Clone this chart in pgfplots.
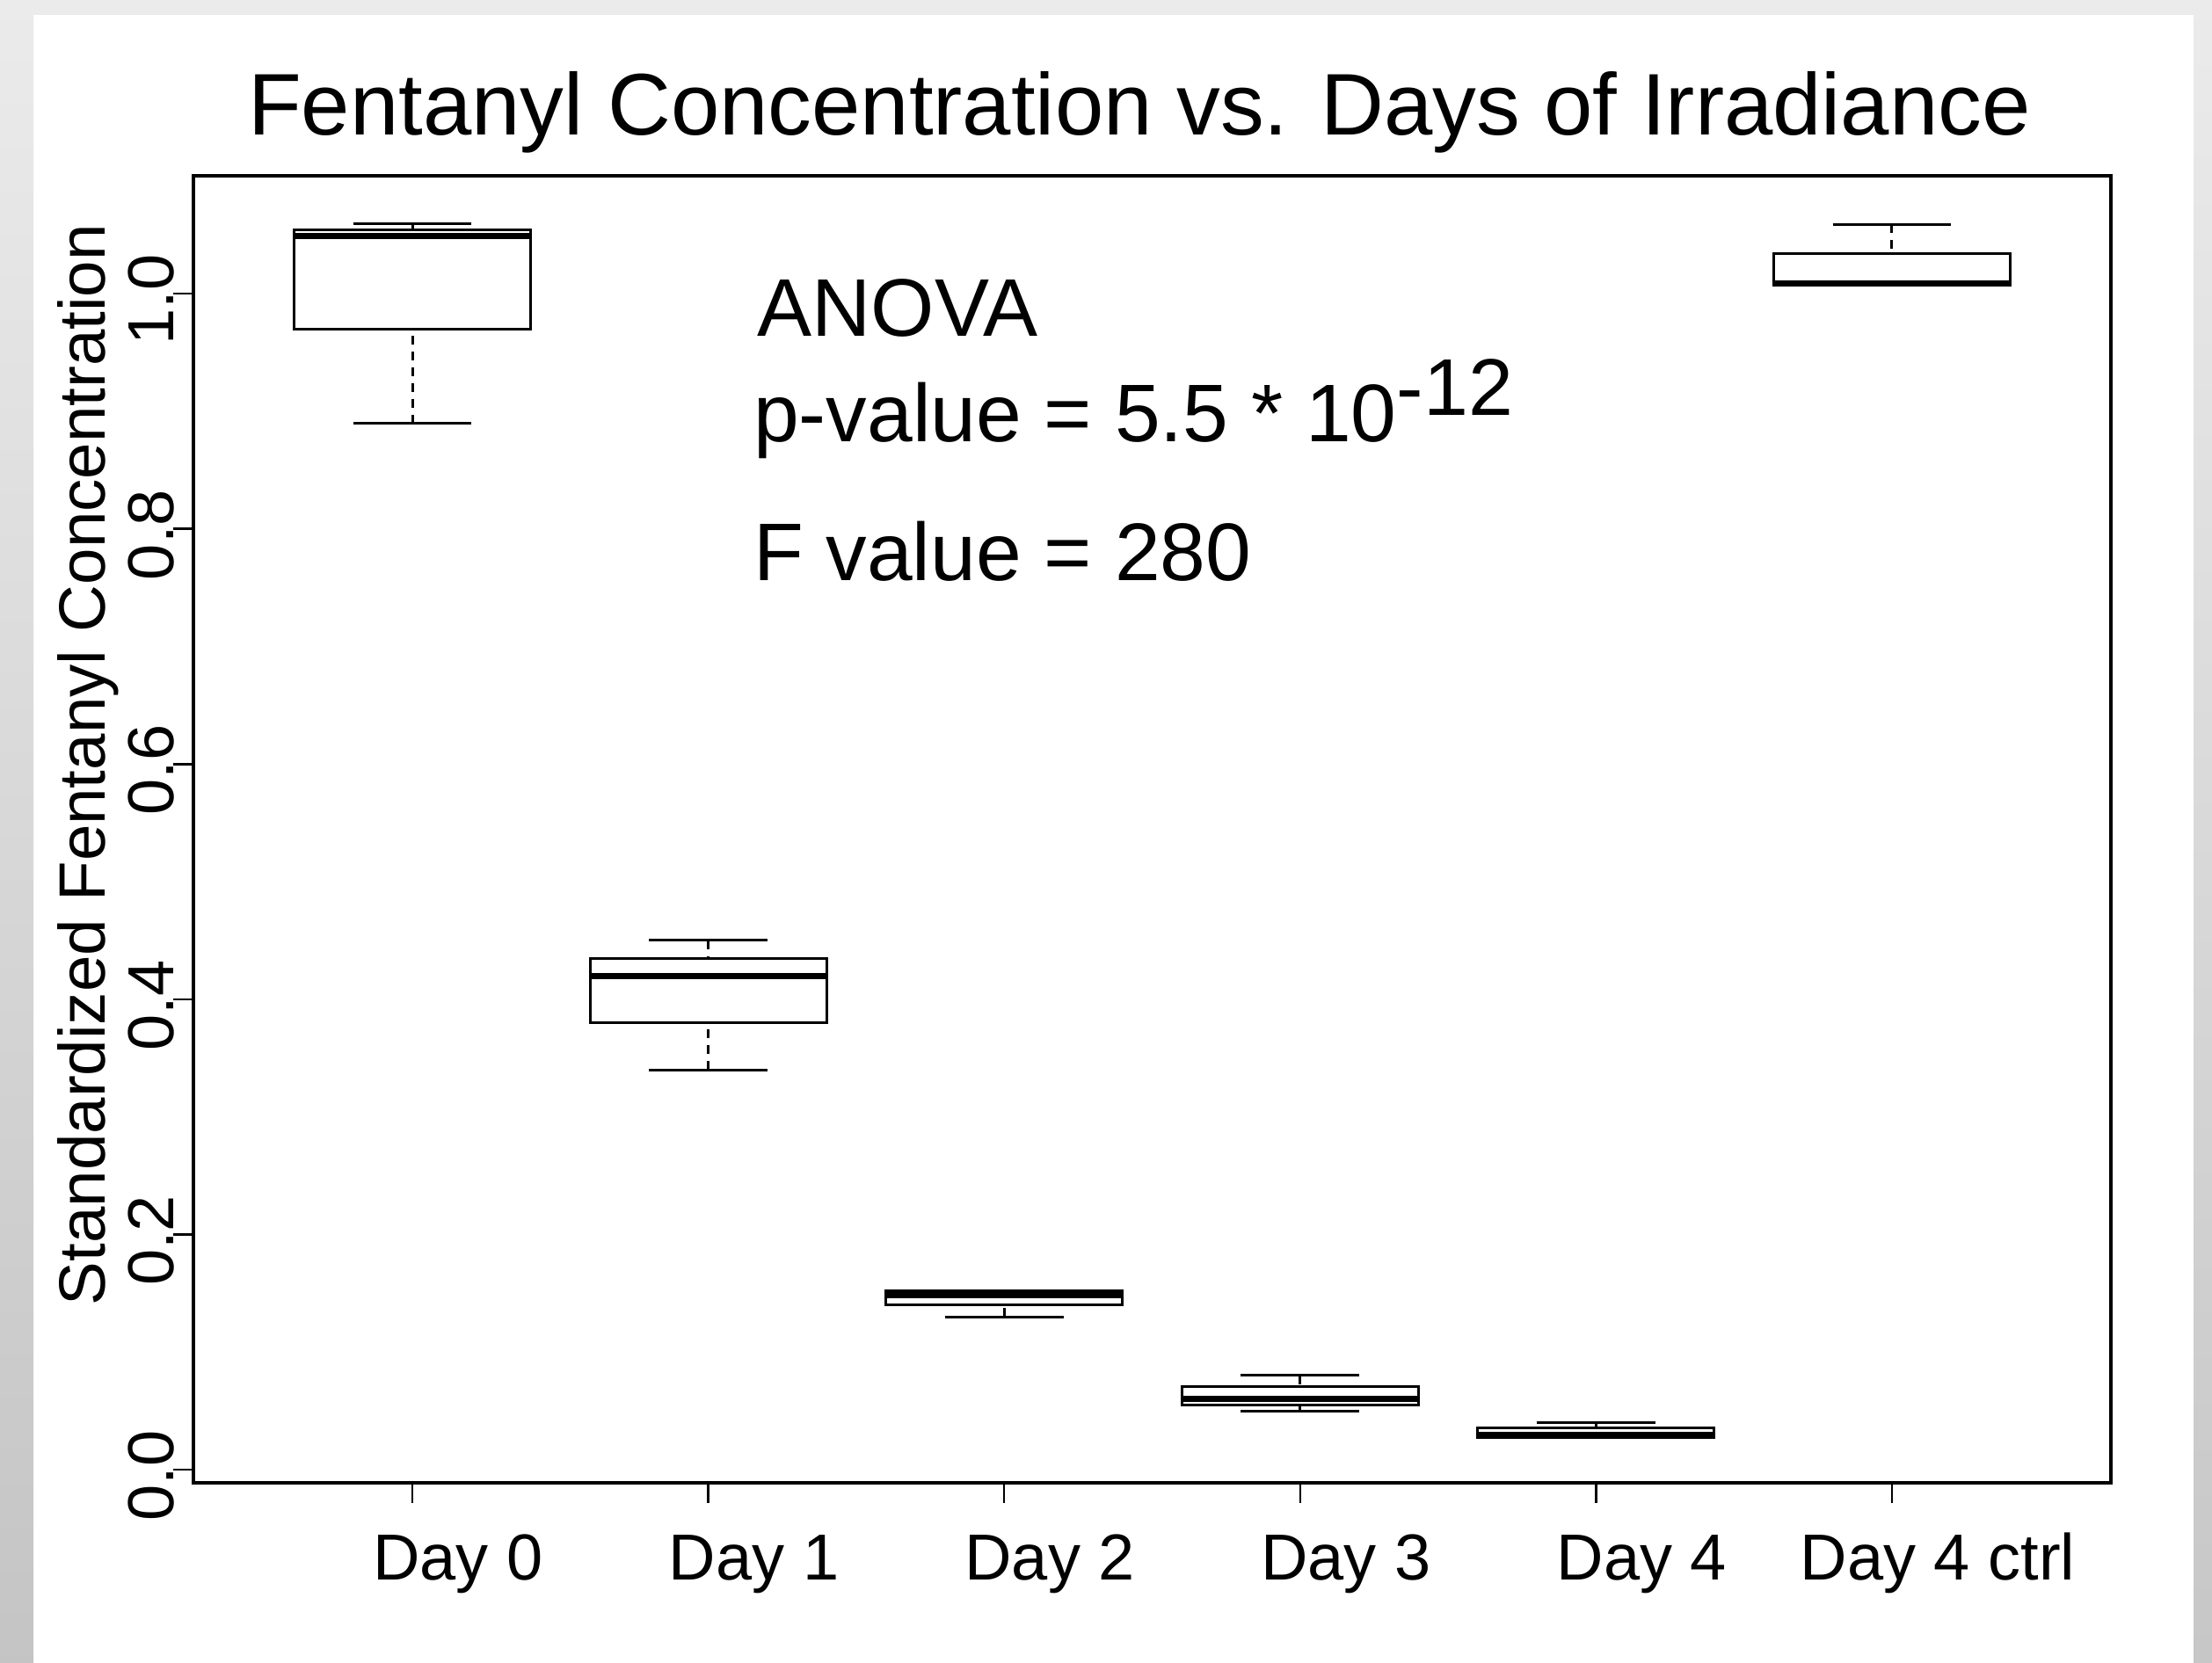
\documentclass[border=0pt]{standalone}
\usepackage{pgfplots}
\pgfplotsset{compat=1.18}
\usepgfplotslibrary{statistics}
\usepackage{fontspec}
\setmainfont{Liberation Sans}

\pgfplotsset{
  boxplot/every box/.style={draw=black, line width=0.6pt},
  boxplot/every median/.style={draw=black, line width=1.4pt},
  boxplot/draw/lower whisker/.code={%
    \draw[black, line width=0.6pt, dash pattern=on 2pt off 1.6pt]
      (boxplot cs:\pgfplotsboxplotvalue{lower whisker}) --
      (boxplot cs:\pgfplotsboxplotvalue{lower quartile});
    \draw[black, line width=0.6pt]
      (boxplot whisker cs:\pgfplotsboxplotvalue{lower whisker},0) --
      (boxplot whisker cs:\pgfplotsboxplotvalue{lower whisker},1);
  },
  boxplot/draw/upper whisker/.code={%
    \draw[black, line width=0.6pt, dash pattern=on 2pt off 1.6pt]
      (boxplot cs:\pgfplotsboxplotvalue{upper whisker}) --
      (boxplot cs:\pgfplotsboxplotvalue{upper quartile});
    \draw[black, line width=0.6pt]
      (boxplot whisker cs:\pgfplotsboxplotvalue{upper whisker},0) --
      (boxplot whisker cs:\pgfplotsboxplotvalue{upper whisker},1);
  },
}

\begin{document}
\begin{tikzpicture}
\useasboundingbox (0,0) rectangle (503.2pt,378.2pt);
\fill[white] (0,0) rectangle (503.2pt,378.2pt);
\fill[black!8] (0,374.8pt) rectangle (503.2pt,378.2pt);
\shade[top color=black!8, bottom color=black!23] (0,0) rectangle (7.6pt,374.8pt);
\shade[top color=black!8, bottom color=black!22] (499pt,0) rectangle (503.2pt,374.8pt);
\begin{axis}[
  at={(44pt,40.8pt)}, anchor=south west,
  scale only axis, width=436.2pt, height=297.4pt,
  xmin=0.26, xmax=6.74, ymin=-0.0112, ymax=1.1002,
  axis line style={black, line width=0.85pt},
  tick align=outside, xtick pos=bottom, ytick pos=left,
  major tick length=4.6pt,
  every tick/.style={black, line width=0.5pt},
  xtick={1,2,3,4,5,6},
  xticklabels={Day 0,Day 1,Day 2,Day 3,Day 4,Day 4 ctrl},
  ytick={0,0.2,0.4,0.6,0.8,1.0},
  yticklabels={0.0,0.2,0.4,0.6,0.8,1.0},
  ticklabel style={font=\fontsize{14.8}{17}\selectfont},
  xticklabel style={anchor=base, inner sep=0pt, xshift=10.4pt, yshift=-17.4pt},
  yticklabel style={rotate=90, anchor=base, inner sep=0pt, xshift=-1.4pt},
  title={Fentanyl Concentration vs. Days of Irradiance},
  title style={font=\fontsize{19.9}{24}\selectfont, at={(rel axis cs:0.4934,1.0114)}, anchor=base, inner sep=0pt, yshift=0pt},
  ylabel={Standardized Fentanyl Concentration},
  ylabel style={font=\fontsize{14.9}{17}\selectfont, at={(rel axis cs:-0.0459,0.5494)}, anchor=base, inner sep=0pt},
  boxplot/draw direction=y,
  clip=false,
]
% Day 0
\addplot[black, boxplot prepared={draw direction=y, lower whisker=0.8897, lower quartile=0.970, median=1.0492, upper quartile=1.0546, upper whisker=1.0591, draw position=1, box extend=0.8, whisker extend=0.4}] coordinates {};
% Day 1
\addplot[black, boxplot prepared={draw direction=y, lower whisker=0.340, lower quartile=0.380, median=0.420, upper quartile=0.435, upper whisker=0.450, draw position=2, box extend=0.8, whisker extend=0.4}] coordinates {};
% Day 2
\addplot[black, boxplot prepared={draw direction=y, lower whisker=0.130, lower quartile=0.140, median=0.1487, upper quartile=0.1521, upper whisker=0.1521, draw position=3, box extend=0.8, whisker extend=0.4}] coordinates {};
% Day 3
\addplot[black, boxplot prepared={draw direction=y, lower whisker=0.0499, lower quartile=0.0551, median=0.0600, upper quartile=0.0703, upper whisker=0.0802, draw position=4, box extend=0.8, whisker extend=0.4}] coordinates {};
% Day 4
\addplot[black, boxplot prepared={draw direction=y, lower whisker=0.0275, lower quartile=0.0275, median=0.0298, upper quartile=0.0355, upper whisker=0.0398, draw position=5, box extend=0.8, whisker extend=0.4}] coordinates {};
% Day 4 ctrl
\addplot[black, boxplot prepared={draw direction=y, lower whisker=1.0075, lower quartile=1.0075, median=1.0085, upper quartile=1.0339, upper whisker=1.0589, draw position=6, box extend=0.8, whisker extend=0.4}] coordinates {};

\node[anchor=base west, inner sep=0pt, font=\fontsize{18.6}{22}\selectfont] at (axis cs:2.163,0.964) {ANOVA};
\node[anchor=base west, inner sep=0pt, font=\fontsize{18.6}{22}\selectfont] at (axis cs:2.150,0.874) {p-value = 5.5 * 10\raisebox{6pt}{\fontsize{18.3}{22}\selectfont -12}};
\node[anchor=base west, inner sep=0pt, font=\fontsize{18.6}{22}\selectfont] at (axis cs:2.150,0.756) {F value = 280};
\end{axis}
\end{tikzpicture}
\end{document}
